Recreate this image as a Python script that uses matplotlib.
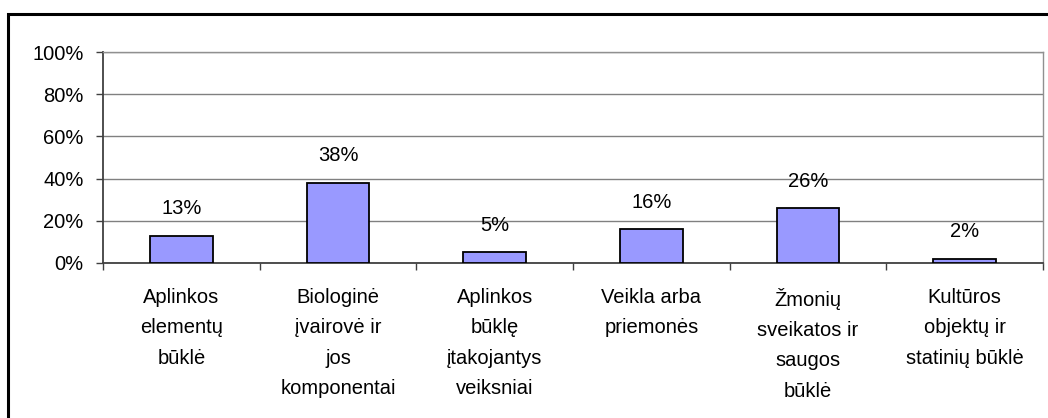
import matplotlib.pyplot as plt
from matplotlib.patches import Rectangle
from matplotlib.ticker import FixedLocator

categories = [
    "Aplinkos\nelementų\nbūklė",
    "Biologinė\nįvairovė ir\njos\nkomponentai",
    "Aplinkos\nbūklę\nįtakojantys\nveiksniai",
    "Veikla arba\npriemonės",
    "Žmonių\nsveikatos ir\nsaugos\nbūklė",
    "Kultūros\nobjektų ir\nstatinių būklė",
]
values = [13, 38, 5, 16, 26, 2]
y_ticks = [0, 20, 40, 60, 80, 100]

plt.rcParams['font.family'] = ['Liberation Sans', 'DejaVu Sans']

W, H = 1048, 418
fig = plt.figure(figsize=(W / 100, H / 100), dpi=100)

# outer chart border (right and bottom edges run off the picture)
fig.patches.append(Rectangle((7.5 / W, -0.2), 1.2, 1.2 - 13.5 / H,
                             transform=fig.transFigure, fill=False,
                             edgecolor='black', linewidth=2.2, clip_on=False))

ax = fig.add_axes([103 / W, (H - 263) / H, 940 / W, 211 / H])

x = list(range(len(values)))
ax.bar(x, values, width=0.4, color='#9999FF', edgecolor='black',
       linewidth=1.3, zorder=3)

for xi, v in zip(x, values):
    ax.annotate(f"{v}%", (xi, v), xytext=(0, 15.5), textcoords='offset points',
                ha='center', va='baseline', fontsize=14.5, zorder=4)

ax.set_xlim(-0.5, len(values) - 0.5)
ax.set_ylim(0, 100)
ax.set_yticks(y_ticks)
ax.set_yticklabels([f"{t}%" for t in y_ticks], fontsize=14.5)
ax.yaxis.grid(True, color='#808080', linewidth=1.0, zorder=0)

ax.set_xticks(x)
ax.set_xticklabels(categories, fontsize=14.5, linespacing=1.75, va='top')
ax.xaxis.set_minor_locator(FixedLocator([i - 0.5 for i in range(len(values) + 1)]))
ax.tick_params(axis='x', which='major', length=0, pad=18)
ax.tick_params(axis='x', which='minor', length=5, width=1, color='#404040')
ax.tick_params(axis='y', length=5, width=1, color='#404040', pad=9)

for side in ['left', 'bottom']:
    ax.spines[side].set_color('#404040')
    ax.spines[side].set_linewidth(1.3)
for side in ['right', 'top']:
    ax.spines[side].set_color('#909090')
    ax.spines[side].set_linewidth(1.0)

fig.savefig('out.png', dpi=100)
